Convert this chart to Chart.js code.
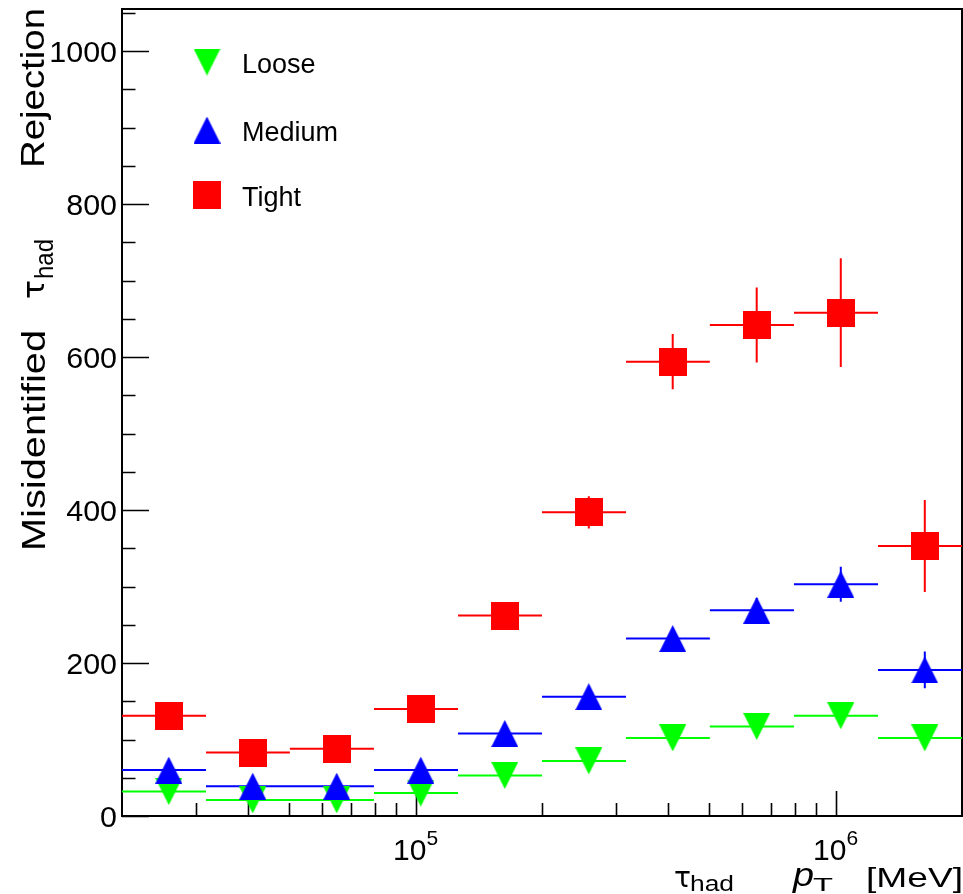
<!DOCTYPE html>
<html>
<head>
<meta charset="utf-8">
<title>Misidentified tau rejection vs pT</title>
<script src="https://cdn.jsdelivr.net/npm/chart.js@4.4.1/dist/chart.umd.min.js"></script>
<style>
    html, body { margin: 0; padding: 0; background: #ffffff; }
    #wrap { width: 963px; height: 894px; }
</style>
</head>
<body>
<div id="wrap"><canvas id="rejChart" width="963" height="894"></canvas></div>
<script>
/**
 * 1. DATA
 */
// pT bin edges [MeV]
const binEdges = [20000, 31700, 50200, 79600, 126200, 200000, 317000, 502000, 796000, 1262000, 2000000];
// marker positions (bin centres) [MeV]
const binCenters = [25850, 40950, 64900, 102900, 163100, 258500, 409500, 649000, 1029000, 1631000];

const looseVals  = [32, 21, 21, 30, 53, 72, 102, 117, 131, 102];
const looseErrs  = [1, 1, 1, 2, 3, 4, 6, 8, 10, 12];
const mediumVals = [60, 39, 39, 60, 108, 156, 232, 269, 303, 191];
const mediumErrs = [2, 2, 2, 3, 5, 8, 12, 16, 23, 24];
const tightVals  = [131, 83, 88, 140, 262, 397, 594, 642, 658, 353];
const tightErrs  = [4, 4, 4, 5, 8, 21, 36, 49, 71, 60];

const yTickLabels = [0, 200, 400, 600, 800, 1000];
const xTickLabels = [[100000, '10', '5'], [1000000, '10', '6']];

const X_MIN = 20000, X_MAX = 2000000;
const Y_MIN = 0, Y_MAX = 1055;

const FONT = '"Liberation Sans", Arial, Helvetica, sans-serif';
const GREEK = '"DejaVu Sans", sans-serif';

/**
 * 2. MARKERS
 */
function makeMarker(shape, color, w, h) {
    const c = document.createElement('canvas');
    c.width = w;
    c.height = h;
    const g = c.getContext('2d');
    g.fillStyle = color;
    g.beginPath();
    if (shape === 'up') {
        g.moveTo(w / 2, 0); g.lineTo(w, h); g.lineTo(0, h);
    } else if (shape === 'down') {
        g.moveTo(0, 0); g.lineTo(w, 0); g.lineTo(w / 2, h);
    } else {
        g.rect(0, 0, w, h);
    }
    g.closePath();
    g.fill();
    return c;
}

const looseMarker  = makeMarker('down', '#00ff00', 27, 27);
const mediumMarker = makeMarker('up', '#0000ff', 27, 27);
const tightMarker  = makeMarker('square', '#ff0000', 28, 28);

function toPoints(vals) {
    return vals.map((v, i) => ({ x: binCenters[i], y: v }));
}

/**
 * 3. HELPERS
 */
// draw a string with a horizontal stretch, either to a fixed width or by a factor
function drawFitted(ctx, str, x, y, font, width, angle, align, factor) {
    ctx.save();
    ctx.translate(x, y);
    ctx.rotate(angle || 0);
    ctx.font = font;
    const w = ctx.measureText(str).width;
    const k = width ? width / w : (factor || 1);
    ctx.scale(k, 1);
    ctx.textAlign = 'left';
    ctx.textBaseline = 'alphabetic';
    let ox = 0;
    if (align === 'right') ox = -w;
    else if (align === 'center') ox = -w / 2;
    ctx.fillText(str, ox, 0);
    ctx.restore();
}

/**
 * 4. PLUGINS: frame, ticks, error bars, titles, legend
 */
const frameAxes = {
    id: 'frameAxes',
    beforeDatasetsDraw(chart) {
        const { ctx, chartArea: a, scales } = chart;
        const xs = scales.x, ys = scales.y;
        ctx.save();
        ctx.strokeStyle = '#000000';
        ctx.fillStyle = '#000000';

        // frame
        ctx.lineWidth = 2;
        ctx.strokeRect(a.left, a.top, a.right - a.left, a.bottom - a.top);

        // y ticks (inward)
        ctx.lineWidth = 1.6;
        ctx.beginPath();
        for (let v = 0; v <= Y_MAX; v += 50) {
            const py = Math.round(ys.getPixelForValue(v)) + 0.5;
            const len = (v % 200 === 0) ? 27 : 13.5;
            ctx.moveTo(a.left, py);
            ctx.lineTo(a.left + len, py);
        }
        // x ticks (inward), log decades
        for (let dec = 10000; dec <= 1000000; dec *= 10) {
            for (let m = 1; m <= 9; m++) {
                const v = dec * m;
                if (v <= X_MIN || v >= X_MAX) continue;
                const px = Math.round(xs.getPixelForValue(v)) + 0.5;
                const len = (m === 1) ? 25 : 13;
                ctx.moveTo(px, a.bottom);
                ctx.lineTo(px, a.bottom - len);
            }
        }
        ctx.stroke();

        // y tick labels
        yTickLabels.forEach(v => {
            const py = ys.getPixelForValue(v);
            drawFitted(ctx, String(v), a.left - 5, py + 11, '29px ' + FONT, null, 0, 'right', 1.05);
        });

        // x tick labels: 10^n
        xTickLabels.forEach(([v, base, exp]) => {
            const px = xs.getPixelForValue(v);
            ctx.font = '30px ' + FONT;
            const w1 = ctx.measureText(base).width;
            ctx.font = '21px ' + FONT;
            const w2 = ctx.measureText(exp).width;
            const x0 = px - (w1 + w2) / 2;
            drawFitted(ctx, base, x0, 860, '30px ' + FONT, null, 0, 'left');
            drawFitted(ctx, exp, x0 + w1, 845, '21px ' + FONT, null, 0, 'left');
        });
        ctx.restore();
    }
};

const errorBars = {
    id: 'errorBars',
    beforeDatasetsDraw(chart) {
        const { ctx, scales } = chart;
        const xs = scales.x, ys = scales.y;
        ctx.save();
        ctx.lineWidth = 2;
        chart.data.datasets.forEach(ds => {
            ctx.strokeStyle = ds.barColor;
            ctx.beginPath();
            ds.data.forEach((p, i) => {
                const py = ys.getPixelForValue(p.y);
                const px = xs.getPixelForValue(p.x);
                ctx.moveTo(xs.getPixelForValue(binEdges[i]), py);
                ctx.lineTo(xs.getPixelForValue(binEdges[i + 1]), py);
                ctx.moveTo(px, ys.getPixelForValue(p.y - ds.errs[i]));
                ctx.lineTo(px, ys.getPixelForValue(p.y + ds.errs[i]));
            });
            ctx.stroke();
        });
        ctx.restore();
    }
};

const titlesLegend = {
    id: 'titlesLegend',
    afterDraw(chart) {
        const ctx = chart.ctx;
        ctx.save();
        ctx.fillStyle = '#000000';
        const up = -Math.PI / 2;

        // y title
        drawFitted(ctx, 'Misidentified', 45, 551, '34px ' + FONT, 221, up);
        drawFitted(ctx, 'τ', 44, 299, '31px ' + GREEK, 19, up);
        drawFitted(ctx, 'had', 53, 279, '25px ' + FONT, 40, up);
        drawFitted(ctx, 'Rejection', 44, 168, '34px ' + FONT, 160, up);

        // x title
        drawFitted(ctx, 'τ', 674, 887, '29px ' + GREEK, 17, 0);
        drawFitted(ctx, 'had', 690, 891, '22px ' + FONT, 44, 0);
        drawFitted(ctx, 'p', 793, 886, 'italic 34px ' + FONT, 21, 0);
        drawFitted(ctx, 'T', 813, 891, '19px ' + FONT, 20, 0);
        drawFitted(ctx, '[MeV]', 963, 887, '27px ' + FONT, 97, 0, 'right');

        // legend
        const rows = [62, 130, 195];
        chart.data.datasets.forEach((ds, i) => {
            const m = ds.pointStyle;
            ctx.drawImage(m, 207 - m.width / 2, rows[i] - m.height / 2);
            drawFitted(ctx, ds.label, 242, rows[i] + 11, '27px ' + FONT, null, 0);
        });
        ctx.restore();
    }
};

/**
 * 5. CHART
 */
const ctx = document.getElementById('rejChart').getContext('2d');
const rejChart = new Chart(ctx, {
    type: 'scatter',
    data: {
        datasets: [{
            label: 'Loose',
            data: toPoints(looseVals),
            errs: looseErrs,
            barColor: '#00ff00',
            pointStyle: looseMarker,
            pointRadius: 13,
            order: 3
        }, {
            label: 'Medium',
            data: toPoints(mediumVals),
            errs: mediumErrs,
            barColor: '#0000ff',
            pointStyle: mediumMarker,
            pointRadius: 13,
            order: 2
        }, {
            label: 'Tight',
            data: toPoints(tightVals),
            errs: tightErrs,
            barColor: '#ff0000',
            pointStyle: tightMarker,
            pointRadius: 14,
            order: 1
        }]
    },
    options: {
        responsive: false,
        animation: false,
        devicePixelRatio: 1,
        layout: { autoPadding: false, padding: { left: 122, top: 9, right: 1, bottom: 78 } },
        plugins: {
            legend: { display: false },
            tooltip: { enabled: false }
        },
        scales: {
            x: { type: 'logarithmic', min: X_MIN, max: X_MAX, display: false },
            y: { type: 'linear', min: Y_MIN, max: Y_MAX, display: false }
        }
    },
    plugins: [frameAxes, errorBars, titlesLegend]
});
</script>
</body>
</html>
